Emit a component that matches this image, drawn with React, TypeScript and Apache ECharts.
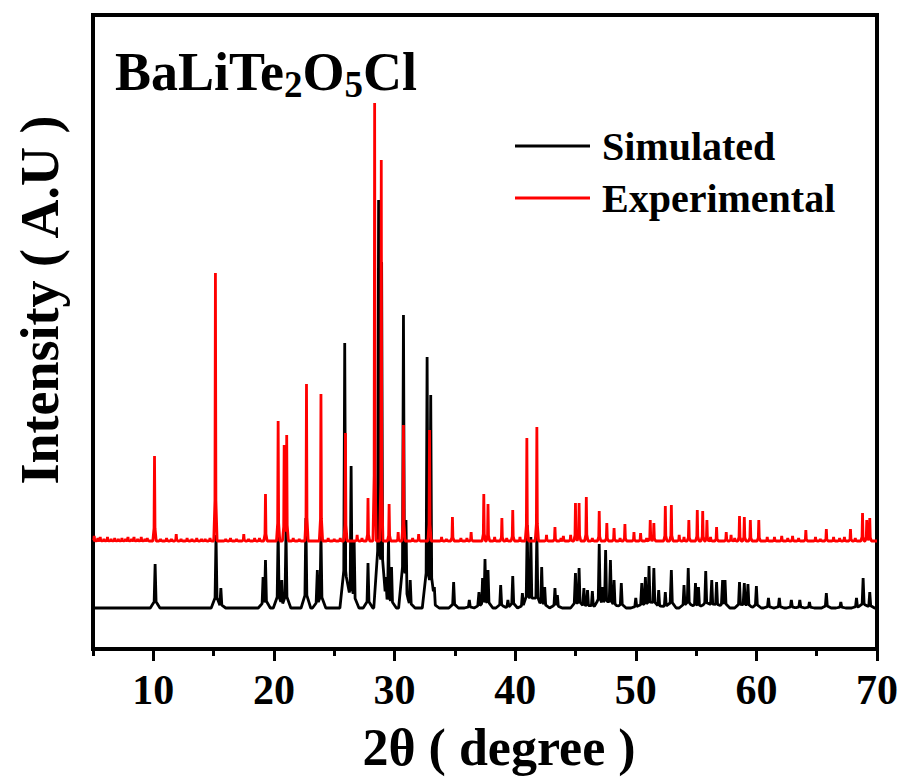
import React, { useEffect, useRef } from "react";
import * as echarts from "echarts";

// 2θ axis
const X_MIN = 5;
const X_MAX = 70;
const MAJOR_TICKS = [10, 20, 30, 40, 50, 60, 70];
const MINOR_STEP = 10; // minor ticks at 5, 15, 25, ... counted from X_MIN

// Simulated pattern: [2θ, intensity above its baseline]
const SIM_PEAKS: [number, number][] = [
  [10.15, 44], [15.2, 73], [15.6, 20], [19.1, 31], [19.3, 48], [20.35, 78], [20.65, 28],
  [21.0, 78], [22.65, 90], [23.6, 38], [23.9, 75], [25.87, 265], [26.4, 142], [26.65, 68],
  [27.8, 45], [28.68, 408], [28.93, 346], [29.3, 31], [29.5, 71], [29.75, 41], [30.74, 293],
  [30.95, 88], [31.3, 28], [32.7, 251], [33.0, 213], [33.3, 21], [34.9, 26], [36.2, 8],
  [37.0, 16], [37.3, 30], [37.5, 49], [37.75, 38], [38.8, 23], [39.4, 8], [39.8, 32],
  [40.6, 15], [41.0, 83], [41.3, 71], [41.8, 76], [42.2, 41], [42.45, 21], [43.3, 20],
  [43.5, 13], [45.0, 35], [45.3, 40], [45.7, 20], [46.0, 18], [46.4, 17], [46.97, 64],
  [47.25, 21], [47.5, 58], [47.9, 48], [48.2, 28], [48.8, 25], [50.0, 10], [50.5, 25],
  [50.8, 31], [51.1, 42], [51.5, 40], [51.9, 18], [52.45, 16], [52.95, 38], [54.0, 23],
  [54.35, 40], [54.95, 25], [55.2, 21], [55.8, 37], [56.3, 28], [56.7, 26], [57.2, 28],
  [57.4, 28], [58.6, 26], [59.0, 25], [59.3, 24], [60.0, 22], [61.0, 10], [61.9, 10],
  [62.9, 8], [63.6, 8], [64.4, 6], [65.8, 15], [67.0, 6], [68.3, 10], [68.85, 30], [69.4, 16],
];

// Experimental pattern: [2θ, intensity above its baseline]
const EXP_PEAKS: [number, number][] = [
  [10.1, 85], [15.15, 268], [19.3, 47], [20.35, 120], [20.85, 96], [21.06, 106],
  [22.7, 157], [23.9, 147], [25.93, 108], [27.8, 43], [28.35, 438], [28.9, 381],
  [29.55, 37], [30.74, 116], [32.9, 111], [34.8, 24], [36.35, 9], [37.4, 47], [37.75, 37],
  [38.9, 23], [39.8, 31], [40.97, 103], [41.8, 114], [43.3, 14], [45.0, 38], [45.3, 38],
  [45.9, 44], [46.97, 30], [47.6, 18], [48.2, 13], [49.1, 17], [49.85, 9], [51.2, 21],
  [51.5, 18], [52.45, 35], [52.95, 36], [54.4, 21], [55.1, 31], [55.55, 30], [55.9, 21],
  [56.7, 14], [57.5, 9], [58.6, 25], [59.0, 24], [59.5, 21], [60.2, 21], [62.1, 5],
  [64.1, 11], [65.8, 12], [67.8, 12], [68.8, 28], [69.15, 21], [69.4, 23],
];

// Small background wiggles of the experimental trace
const EXP_NOISE: [number, number][] = [
  [5.1, 5], [5.4, 3], [5.6, 4], [5.9, 2], [6.2, 4], [6.5, 2], [6.8, 3], [7.1, 2], [7.4, 3],
  [7.7, 2], [7.9, 4], [8.2, 2], [8.4, 4], [8.7, 2], [9.0, 4], [9.3, 2], [9.5, 3], [10.6, 2],
  [11.1, 3], [11.5, 2], [11.9, 7], [12.3, 2], [12.8, 3], [13.2, 2], [13.6, 3], [14.0, 2],
  [14.3, 2], [14.7, 3], [16.0, 2], [16.4, 3], [16.9, 2], [17.5, 7], [17.9, 2], [18.4, 3],
  [18.8, 3], [21.6, 3], [22.1, 2], [24.5, 3], [25.0, 2], [25.5, 3], [26.9, 6], [27.3, 3],
  [30.3, 9], [31.5, 3], [32.0, 7], [33.9, 4], [34.3, 2], [35.5, 3], [36.0, 3], [38.3, 4],
  [39.3, 3], [40.4, 4], [42.6, 6], [43.8, 3], [44.0, 5], [44.6, 6], [46.4, 3], [48.7, 3],
  [50.4, 8], [50.9, 3], [53.6, 6], [54.0, 4], [56.2, 4], [57.9, 6], [58.2, 3], [60.9, 4],
  [61.5, 4], [62.6, 3], [63.0, 5], [63.5, 3], [64.9, 4], [65.3, 2], [66.4, 4], [66.9, 3],
  [67.3, 4], [68.2, 3],
];

const EXP_OFFSET = 67;

function peakValue(d: number, h: number, inner: number, outer: number, frac: number) {
  const ad = Math.abs(d);
  if (ad >= outer) return 0;
  if (ad <= inner) return h - (h - h * frac) * (ad / inner);
  return (h * frac * (outer - ad)) / (outer - inner);
}

function buildTrace(
  peaks: [number, number][],
  inner: number,
  outer: number,
  frac: number,
  offset: number
) {
  const keys = new Set<number>([X_MIN, X_MAX]);
  peaks.forEach(([p]) => {
    [p - outer, p - inner, p, p + inner, p + outer].forEach((k) => {
      if (k >= X_MIN && k <= X_MAX) keys.add(Math.round(k * 1000) / 1000);
    });
  });
  const xs = Array.from(keys).sort((a, b) => a - b);
  return xs.map((x) => {
    let y = 0;
    peaks.forEach(([p, h]) => {
      y = Math.max(y, peakValue(x - p, h, inner, outer, frac));
    });
    return [x, offset + y];
  });
}

const FONT = "Liberation Serif, Times New Roman, serif";

export default function App() {
  const ref = useRef<HTMLDivElement>(null);
  useEffect(() => {
    document.body.style.margin = "0";
    if (!ref.current) return;
    const chart = echarts.init(ref.current, undefined, { renderer: "svg" });
    const simData = buildTrace(SIM_PEAKS, 0.08, 0.4, 0.14, 0);
    const expData = buildTrace(EXP_PEAKS.concat(EXP_NOISE), 0.04, 0.14, 0.15, EXP_OFFSET);
    chart.setOption({
      animation: false,
      backgroundColor: "#fff",
      title: {
        text: "{a|BaLiTe}{s|2}{a|O}{s|5}{a|Cl}",
        left: 110,
        top: 35,
        textStyle: {
          rich: {
            a: { fontSize: 54, fontWeight: "bold", fontFamily: FONT, color: "#000" },
            s: { fontSize: 37, fontWeight: "bold", fontFamily: FONT, color: "#000", padding: [26, 0, 0, 0] },
          },
        },
      },
      legend: {
        data: ["Simulated", "Experimental"],
        orient: "vertical",
        left: 515,
        top: 126,
        padding: 0,
        icon: "rect",
        itemWidth: 75,
        itemHeight: 3,
        itemGap: 12,
        textStyle: {
          fontSize: 40,
          fontWeight: "bold",
          fontFamily: FONT,
          color: "#000",
          lineHeight: 40,
          padding: [0, 0, 0, 7],
        },
      },
      grid: {
        left: 93,
        right: 21,
        top: 15,
        bottom: 135,
        show: true,
        borderColor: "#000",
        borderWidth: 4,
      },
      xAxis: [
        {
          type: "value",
          min: X_MIN,
          max: X_MAX,
          position: "bottom",
          axisLine: { show: false, onZero: false },
          axisTick: {
            show: true,
            customValues: MAJOR_TICKS,
            length: 12,
            lineStyle: { width: 3, color: "#000" },
          },
          minorTick: { show: false },
          axisLabel: {
            customValues: MAJOR_TICKS,
            fontSize: 42,
            fontWeight: "bold",
            fontFamily: FONT,
            color: "#000",
            margin: 20,
          },
          splitLine: { show: false },
          name: "2θ ( degree )",
          nameLocation: "middle",
          nameGap: 72,
          nameTextStyle: {
            fontSize: 52,
            fontWeight: "bold",
            fontFamily: FONT,
            color: "#000",
            padding: [0, 0, 0, 28],
          },
        },
        {
          type: "value",
          min: X_MIN,
          max: X_MAX,
          interval: MINOR_STEP,
          position: "bottom",
          axisLine: { show: false, onZero: false },
          axisTick: {
            show: true,
            length: 7,
            lineStyle: { width: 3, color: "#000" },
          },
          minorTick: { show: false },
          axisLabel: { show: false },
          splitLine: { show: false },
        },
      ],
      yAxis: {
        type: "value",
        min: -41,
        max: 593,
        axisLine: { show: false },
        axisTick: { show: false },
        axisLabel: { show: false },
        splitLine: { show: false },
      },
      graphic: [
        {
          type: "text",
          x: 40,
          y: 300,
          rotation: Math.PI / 2,
          style: {
            text: "Intensity ( A.U )",
            fontSize: 54,
            fontWeight: "bold",
            fontFamily: FONT,
            fill: "#000",
            align: "center",
            verticalAlign: "middle",
          },
        },
      ],
      series: [
        {
          name: "Simulated",
          type: "line",
          xAxisIndex: 0,
          data: simData,
          showSymbol: false,
          symbol: "none",
          lineStyle: { color: "#000", width: 2.8 },
          itemStyle: { color: "#000" },
          z: 2,
        },
        {
          name: "Experimental",
          type: "line",
          xAxisIndex: 0,
          data: expData,
          showSymbol: false,
          symbol: "none",
          lineStyle: { color: "#ff0000", width: 2.8 },
          itemStyle: { color: "#ff0000" },
          z: 3,
        },
      ],
    });
    return () => chart.dispose();
  }, []);
  return <div ref={ref} style={{ width: 901, height: 784 }} />;
}
